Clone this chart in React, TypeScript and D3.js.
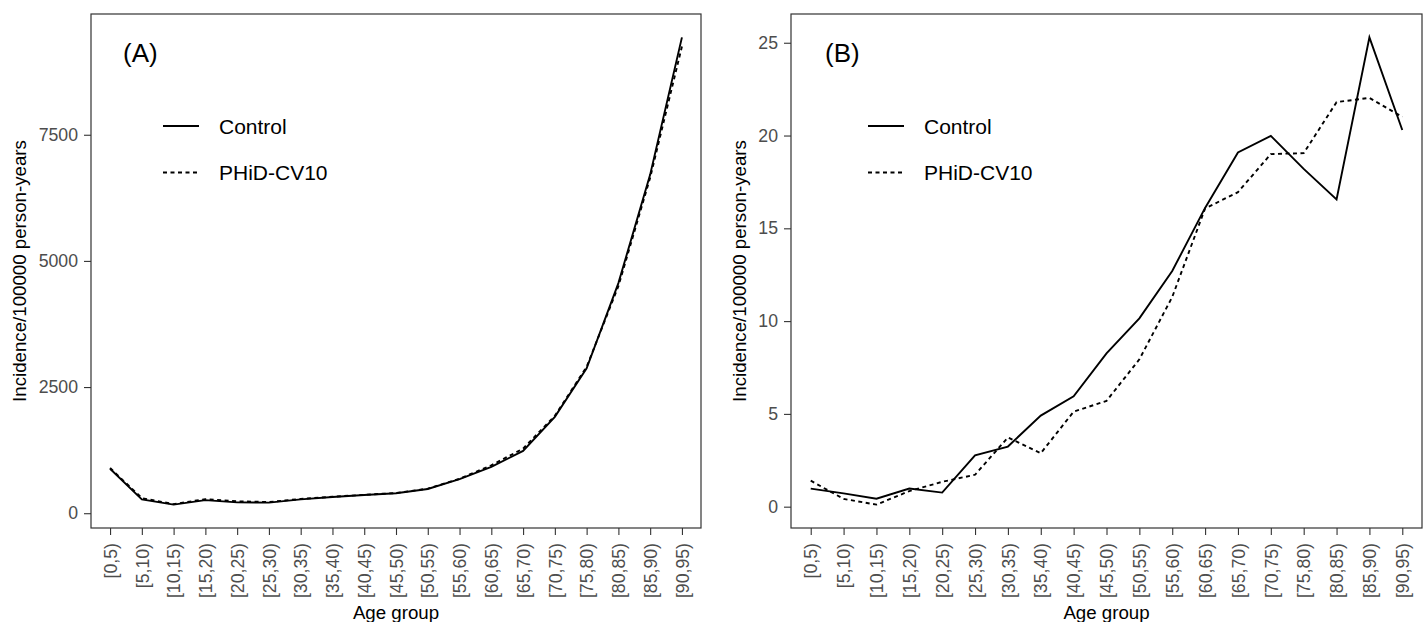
import React, { useEffect, useRef } from "react";
import * as d3 from "d3";

const ageGroups = [
  "[0,5)", "[5,10)", "[10,15)", "[15,20)", "[20,25)", "[25,30)", "[30,35)",
  "[35,40)", "[40,45)", "[45,50)", "[50,55)", "[55,60)", "[60,65)", "[65,70)",
  "[70,75)", "[75,80)", "[80,85)", "[85,90)", "[90,95)"
];

// panel A
const controlA = [880, 275, 170, 260, 215, 210, 275, 320, 360, 395, 480, 675, 920, 1235, 1910, 2870, 4560, 6710, 9430];
const phidA = [895, 300, 180, 280, 235, 222, 282, 325, 365, 400, 487, 682, 950, 1280, 1930, 2900, 4500, 6650, 9250];
const ticksA = [0, 2500, 5000, 7500];

// panel B
const controlB = [0.97, 0.72, 0.43, 0.98, 0.76, 2.77, 3.24, 4.91, 5.95, 8.26, 10.15, 12.7, 16.1, 19.09, 19.98, 18.2, 16.56, 25.29, 20.3];
const phidB = [1.4, 0.42, 0.11, 0.84, 1.34, 1.72, 3.73, 2.88, 5.12, 5.7, 7.94, 11.3, 16.07, 16.95, 19.0, 19.05, 21.8, 22.03, 21.0];
const ticksB = [0, 5, 10, 15, 20, 25];

const seriesNames = ["Control", "PHiD-CV10"];

const FONT = "'Liberation Sans', Arial, Helvetica, sans-serif";

export default function App() {
  const ref = useRef<SVGSVGElement>(null);

  useEffect(() => {
    const svg = d3.select(ref.current);
    svg.selectAll("*").remove();

    const panels = [
      { left: 91, right: 701, tag: "(A)", control: controlA, phid: phidA, ticks: ticksA, off: 0 },
      { left: 791, right: 1422, tag: "(B)", control: controlB, phid: phidB, ticks: ticksB, off: 700 }
    ];
    const top = 14, bottom = 528;

    panels.forEach(function (p) {
      const g = svg.append("g");

      const x = d3.scalePoint<string>().domain(ageGroups).range([p.left, p.right]).padding(0.6);
      const all = p.control.concat(p.phid);
      const lo = d3.min(all) as number, hi = d3.max(all) as number;
      const pad = (hi - lo) * 0.05;
      const y = d3.scaleLinear().domain([lo - pad, hi + pad]).range([bottom, top]);

      // y axis
      const ya = g.append("g")
        .attr("transform", "translate(" + p.left + ",0)")
        .call(d3.axisLeft(y).tickValues(p.ticks).tickSize(7).tickPadding(6).tickFormat(d3.format("d")));
      ya.select(".domain").remove();
      ya.selectAll("line").attr("stroke", "#333333").attr("stroke-width", 1.1);
      ya.selectAll("text")
        .attr("fill", "#4d4d4d")
        .style("font-size", "17.7px")
        .style("font-family", FONT);

      // x axis
      const xa = g.append("g")
        .attr("transform", "translate(0," + bottom + ")")
        .call(d3.axisBottom(x).tickSize(7).tickPadding(8));
      xa.select(".domain").remove();
      xa.selectAll("line").attr("stroke", "#333333").attr("stroke-width", 1.1);
      xa.selectAll("text")
        .attr("transform", "rotate(-90)")
        .attr("x", -15)
        .attr("y", 0)
        .attr("dy", "0.35em")
        .attr("fill", "#4d4d4d")
        .style("text-anchor", "end")
        .style("font-size", "17.7px")
        .style("font-family", FONT);

      // lines
      const line = d3.line<number>()
        .x(function (d, i) { return x(ageGroups[i]) as number; })
        .y(function (d) { return y(d); });

      g.append("path")
        .datum(p.phid)
        .attr("d", line)
        .attr("fill", "none")
        .attr("stroke", "#000")
        .attr("stroke-width", 1.9)
        .attr("stroke-dasharray", "4,3.5");

      g.append("path")
        .datum(p.control)
        .attr("d", line)
        .attr("fill", "none")
        .attr("stroke", "#000")
        .attr("stroke-width", 1.9);

      // panel frame
      g.append("rect")
        .attr("x", p.left)
        .attr("y", top)
        .attr("width", p.right - p.left)
        .attr("height", bottom - top)
        .attr("fill", "none")
        .attr("stroke", "#333333")
        .attr("stroke-width", 1.2);

      // panel tag
      g.append("text")
        .attr("x", p.left + 32 + (p.off ? 2 : 0))
        .attr("y", 62)
        .style("font-size", "26px")
        .style("font-family", FONT)
        .text(p.tag);

      // legend
      const lx = p.left + 72 + (p.off ? 5 : 0);
      const legend = g.append("g")
        .selectAll("g")
        .data(seriesNames)
        .enter().append("g")
        .attr("transform", function (d, i) { return "translate(" + lx + "," + (126 + i * 46.5) + ")"; });

      legend.append("line")
        .attr("x1", 0)
        .attr("x2", 36)
        .attr("stroke", "#000")
        .attr("stroke-width", 1.9)
        .attr("stroke-dasharray", function (d, i) { return i === 1 ? "4,3.5" : null; });

      legend.append("text")
        .attr("x", 56)
        .attr("dy", "0.36em")
        .style("font-size", "21px")
        .style("font-family", FONT)
        .text(function (d) { return d; });

      // axis titles
      g.append("text")
        .attr("x", (p.left + p.right) / 2)
        .attr("y", 619)
        .attr("text-anchor", "middle")
        .style("font-size", "18.7px")
        .style("font-family", FONT)
        .text("Age group");

      g.append("text")
        .attr("transform", "translate(" + (26 + p.off + (p.off ? 20 : 0)) + "," + ((top + bottom) / 2) + ") rotate(-90)")
        .attr("text-anchor", "middle")
        .style("font-size", "18.7px")
        .style("font-family", FONT)
        .text("Incidence/100000 person-years");
    });
  }, []);

  return (
    <div>
      <style>{"body{margin:0;background:#fff}"}</style>
      <svg ref={ref} width={1428} height={622} style={{ display: "block" }}></svg>
    </div>
  );
}
